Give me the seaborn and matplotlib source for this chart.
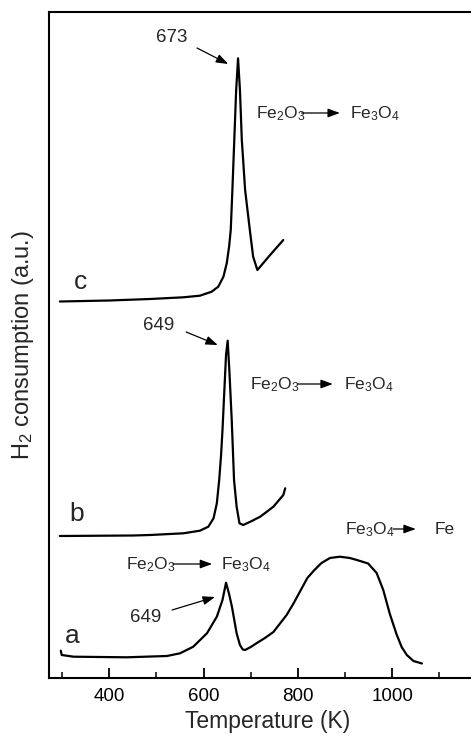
import matplotlib
matplotlib.use("Agg")
import matplotlib.pyplot as plt
import seaborn as sns
import pandas as pd

# ---- data (y in arbitrary units) ----
T_a = [297, 299, 324, 437, 522, 550, 578, 607, 628, 640, 647.5, 654, 660, 670, 677, 683, 688,
       700, 712, 730, 748, 776, 790, 805, 820, 835, 850, 868, 889, 910, 925, 949, 967,
       981, 995, 1009, 1020, 1031, 1045, 1063]
py_a = [650.7, 655, 656.7, 657.3, 656, 653.3, 646.7, 633.3, 616.7, 600, 582.7, 594, 606.7, 633.3, 645, 649.5, 650,
        647, 643.3, 638, 632, 615, 604, 591, 578, 570, 563, 558, 556.7, 558, 560, 563.5, 573,
        590, 614, 634, 647, 655, 661, 663.5]

T_b = [295, 450, 486.5, 557, 592, 610, 621, 628, 633, 637, 640, 644, 647.5, 651, 654.5, 659.6, 664.5,
       670, 676, 684, 700, 720, 748, 769, 773]
py_b = [536, 535.5, 535, 533.3, 530.7, 526.7, 518.3, 503.3, 480, 455, 430, 390, 355, 340.7, 370, 420, 480,
        506.7, 523.3, 525, 521.5, 516.7, 506.7, 495, 488.3]

T_c = [295, 400, 486.5, 557, 592, 617, 631, 642, 649, 654, 657.5, 661, 665, 669, 673, 677, 681, 688,
       698, 705, 714, 741, 769]
py_c = [301.5, 300.5, 299, 297.3, 295.7, 291.7, 286.7, 276.7, 263.3, 246.7, 230, 190, 140, 90, 58.3, 90, 140, 190,
        230, 256.7, 270, 255, 240]

sample_labels = ["a", "b", "c"]
peak_labels = ["649", "649", "673"]
x_ticks = [400, 600, 800, 1000]
x_minor = [300, 500, 700, 900, 1100]

sns.set_theme(style="ticks")
plt.rcParams["font.family"] = ["Liberation Sans", "DejaVu Sans"]
plt.rcParams["mathtext.default"] = "regular"

Y0 = 678  # picture row of the x axis; values are heights above it
df = pd.concat([
    pd.DataFrame({"T": T_a, "y": [Y0 - v for v in py_a], "s": "a"}),
    pd.DataFrame({"T": T_b, "y": [Y0 - v for v in py_b], "s": "b"}),
    pd.DataFrame({"T": T_c, "y": [Y0 - v for v in py_c], "s": "c"}),
])

fig = plt.figure(figsize=(4.71, 7.36), dpi=100)
ax = fig.add_axes([49 / 471, 58 / 736, (486.5 - 49) / 471, 666 / 736])

sns.lineplot(data=df, x="T", y="y", hue="s", units="s", estimator=None, sort=False,
             palette=["black"] * 3, linewidth=1.6, legend=False, ax=ax)

ax.set_xlim(272, 1200)
ax.set_ylim(0, 666)
ax.set_xticks(x_ticks)
ax.set_xticks(x_minor, minor=True)
ax.set_yticks([])
ax.tick_params(axis="x", which="major", direction="in", length=7, width=1.3,
               labelsize=13.5, pad=7, colors="black")
ax.tick_params(axis="x", which="minor", direction="in", length=4, width=1.3)
for sp in ax.spines.values():
    sp.set_linewidth(1.5)
    sp.set_color("black")
ax.spines["right"].set_visible(False)

ax.set_xlabel("Temperature (K)", fontsize=16.5, labelpad=4)
ax.set_ylabel("H$_2$ consumption (a.u.)", fontsize=17, labelpad=9)

# sample letters
for lab, (tx, ty) in zip(sample_labels, [(321, 42), (331, 164), (338, 396)]):
    ax.text(tx, ty, lab, fontsize=19, ha="center", va="center")

arrow_kw = dict(arrowstyle="-|>,head_length=0.6,head_width=0.22", color="black", lw=0.9,
                shrinkA=0, shrinkB=0)

# peak labels with arrows
peak_pos = [((478, 61), (533, 68), (624, 81)),
            ((504, 353), (563, 346), (630, 333)),
            ((533, 641), (586, 630), (652, 614))]
for lab, (tp, a0, a1) in zip(peak_labels, peak_pos):
    ax.text(tp[0], tp[1], lab, fontsize=13.5, ha="center", va="center")
    ax.annotate("", xy=a1, xytext=a0, arrowprops=arrow_kw)

# reaction labels
def reaction(left, right_start, arrow0, arrow1, yy, ltxt, rtxt):
    ax.text(left, yy, ltxt, fontsize=12.5, ha="left", va="center")
    ax.annotate("", xy=(arrow1, yy + 1), xytext=(arrow0, yy + 1), arrowprops=arrow_kw)
    ax.text(right_start, yy, rtxt, fontsize=12.5, ha="left", va="center")

reaction(712, 910, 808, 889, 564, "Fe$_2$O$_3$", "Fe$_3$O$_4$")
reaction(698, 898, 800, 874, 293, "Fe$_2$O$_3$", "Fe$_3$O$_4$")
reaction(435, 637, 535, 618, 113, "Fe$_2$O$_3$", "Fe$_3$O$_4$")
reaction(900, 1091, 1002, 1050, 148, "Fe$_3$O$_4$", "Fe")

fig.savefig("out.png", dpi=100)
